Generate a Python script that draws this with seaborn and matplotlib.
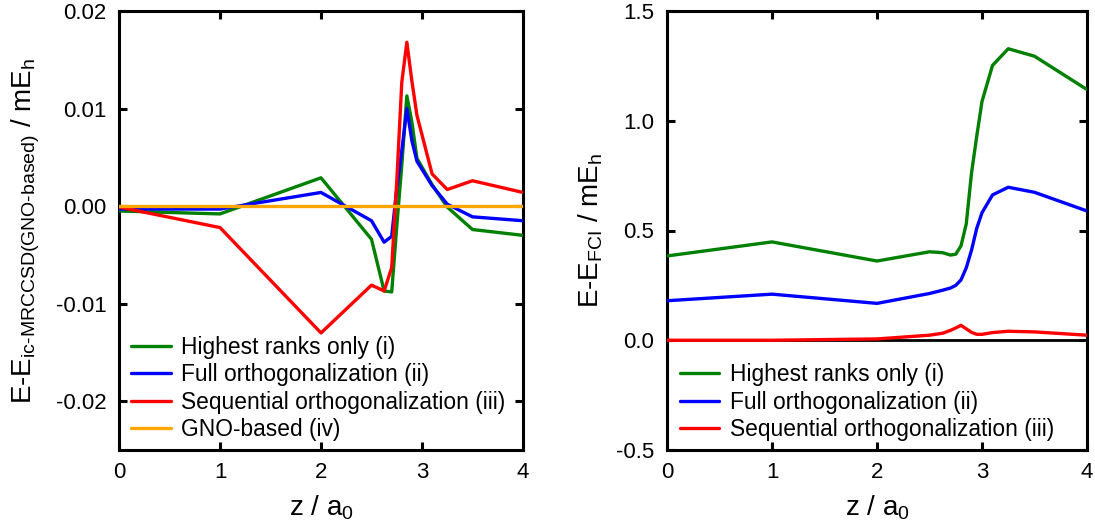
import numpy as np
import pandas as pd
import matplotlib
matplotlib.use("Agg")
import matplotlib.pyplot as plt
import seaborn as sns

# Bond-stretch coordinate z (bohr)
z_left = [0, 1, 2, 2.5, 2.625, 2.7, 2.75, 2.8, 2.85, 2.9, 2.95, 3.1, 3.25, 3.5, 4]
z_right = [0, 1, 2, 2.5, 2.625, 2.7, 2.75, 2.8, 2.85, 2.9, 2.95, 3.0, 3.1, 3.25, 3.5, 4]

# Deviation from GNO-based ic-MRCCSD (mEh)
dev_highest = [-0.0005, -0.0008, 0.0029, -0.0034, -0.0087, -0.0088, -0.0021, 0.0042,
               0.0113, 0.0086, 0.0049, 0.0022, -0.0001, -0.0024, -0.0030]
dev_full = [-0.0003, -0.0003, 0.0014, -0.0015, -0.0037, -0.0031, 0.0018, 0.0057,
            0.0100, 0.0067, 0.0046, 0.0021, 0.0002, -0.0011, -0.0015]
dev_seq = [-0.0001, -0.0022, -0.0130, -0.0081, -0.0087, -0.0063, 0.0025, 0.0127,
           0.0168, 0.0128, 0.0093, 0.0033, 0.0017, 0.0026, 0.0014]
dev_gno = [0.0] * len(z_left)

# Error relative to FCI (mEh)
fci_highest = [0.384, 0.448, 0.361, 0.403, 0.399, 0.388, 0.392, 0.430, 0.530, 0.761,
               0.930, 1.088, 1.252, 1.328, 1.294, 1.142]
fci_full = [0.180, 0.210, 0.168, 0.213, 0.228, 0.238, 0.250, 0.275, 0.330, 0.410,
            0.510, 0.581, 0.662, 0.697, 0.674, 0.589]
fci_seq = [0.000, 0.000, 0.006, 0.023, 0.032, 0.045, 0.056, 0.068, 0.052, 0.036,
           0.027, 0.027, 0.035, 0.041, 0.038, 0.023]

labels = ["Highest ranks only (i)", "Full orthogonalization (ii)",
          "Sequential orthogonalization (iii)", "GNO-based (iv)"]
colors = ["#008000", "#0000ff", "#ff0000", "#ffa500"]

sns.set_theme(style="ticks")
plt.rcParams["font.family"] = ["Liberation Sans", "DejaVu Sans"]
plt.rcParams["mathtext.fontset"] = "custom"
plt.rcParams["mathtext.rm"] = "Liberation Sans"
plt.rcParams["mathtext.it"] = "Liberation Sans:italic"
plt.rcParams["mathtext.bf"] = "Liberation Sans:bold"
plt.rcParams["axes.unicode_minus"] = False
plt.rcParams["text.color"] = "black"
plt.rcParams["axes.labelcolor"] = "black"

left_df = pd.concat([
    pd.DataFrame({"z": z_left, "dE": vals, "method": lab})
    for vals, lab in zip([dev_highest, dev_full, dev_seq, dev_gno], labels)
])
right_df = pd.concat([
    pd.DataFrame({"z": z_right, "dE": vals, "method": lab})
    for vals, lab in zip([fci_highest, fci_full, fci_seq], labels[:3])
])

fig = plt.figure(figsize=(10.95, 5.27), dpi=100)
axL = fig.add_axes([119 / 1095, 1 - 450 / 527, 404 / 1095, 439 / 527])
axR = fig.add_axes([667 / 1095, 1 - 450 / 527, 420 / 1095, 439 / 527])

axR.axhline(0, color="black", lw=2.0, zorder=1)

sns.lineplot(data=left_df, x="z", y="dE", hue="method", hue_order=labels,
             palette=colors, sort=False, estimator=None, lw=2.4, ax=axL, zorder=3)
sns.lineplot(data=right_df, x="z", y="dE", hue="method", hue_order=labels[:3],
             palette=colors[:3], sort=False, estimator=None, lw=2.4, ax=axR, zorder=3)

for ax in (axL, axR):
    ax.set_xlim(0, 4)
    ax.set_xticks([0, 1, 2, 3, 4])
    for sp in ax.spines.values():
        sp.set_visible(True)
        sp.set_linewidth(2.2)
        sp.set_color("black")
    ax.tick_params(direction="in", length=6, width=2.2, top=True, right=True,
                   labelsize=16, pad=9, color="black", labelcolor="black")
    ax.set_xlabel("z / a$_0$", fontsize=20, labelpad=7)
    leg = ax.legend(loc="lower left", frameon=False, fontsize=16.4,
                    handlelength=1.75, handletextpad=0.45, labelspacing=0.2,
                    borderaxespad=0.0, borderpad=0.0,
                    bbox_to_anchor=(0.03, 0.02))
    for h in leg.get_lines():
        h.set_linewidth(2.4)

axL.set_ylim(-0.025, 0.02)
axL.set_yticks([-0.02, -0.01, 0.0, 0.01, 0.02])
axL.set_yticklabels(["-0.02", "-0.01", "0.00", "0.01", "0.02"])
axL.set_ylabel(r"E-E$_{\text{ic-MRCCSD(GNO-based)}}$ / mE$_{\text{h}}$",
               fontsize=20, labelpad=10)

axR.set_ylim(-0.5, 1.5)
axR.set_yticks([-0.5, 0.0, 0.5, 1.0, 1.5])
axR.set_yticklabels(["-0.5", "0.0", "0.5", "1.0", "1.5"])
axR.set_ylabel(r"E-E$_{\text{FCI}}$ / mE$_{\text{h}}$", fontsize=20, labelpad=8)

fig.savefig("out.png", dpi=100)
